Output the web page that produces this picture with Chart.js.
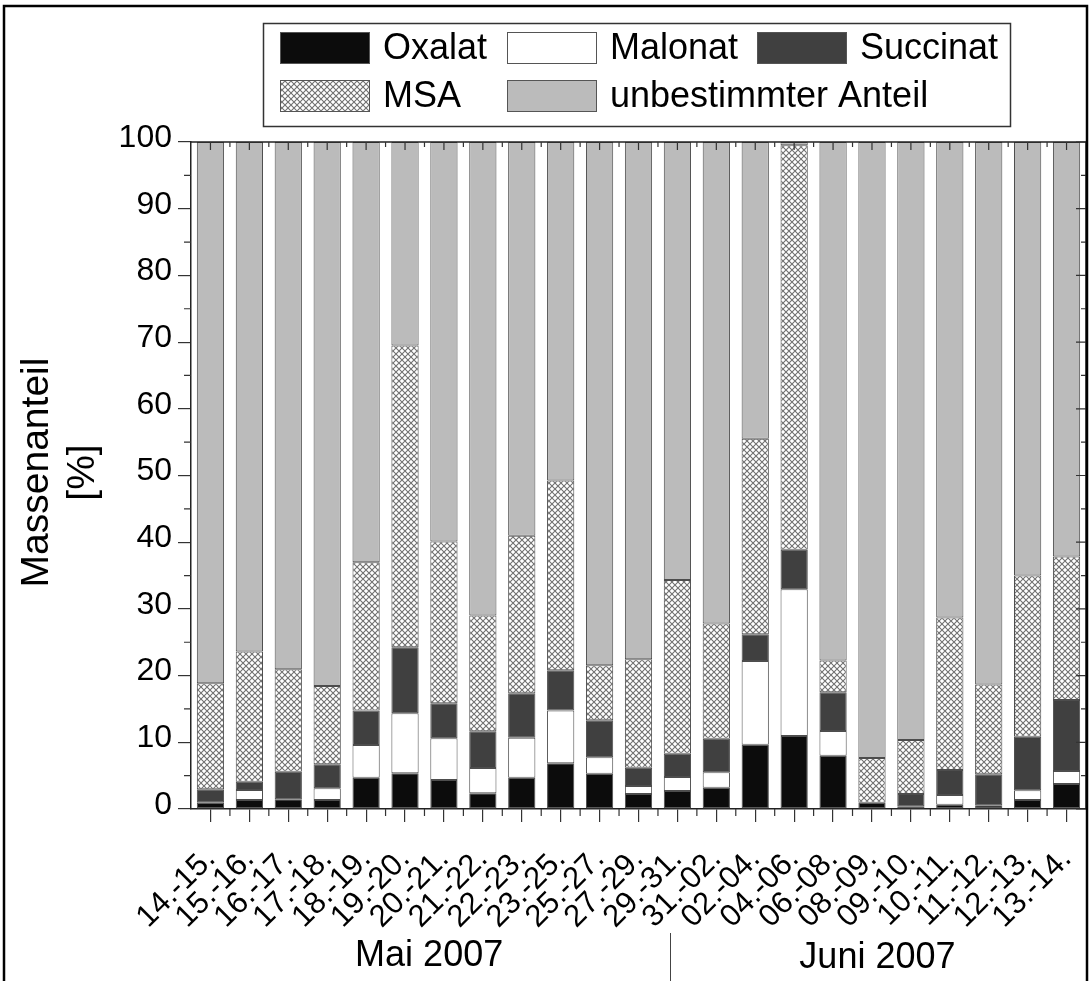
<!DOCTYPE html>
<html>
<head>
<meta charset="utf-8">
<script src="https://cdn.jsdelivr.net/npm/chart.js@4.4.1/dist/chart.umd.min.js"></script>
<style>
html,body{margin:0;padding:0;background:#fff;}
#wrap{width:1092px;height:981px;position:relative;}
</style>
</head>
<body>
<div id="wrap"><canvas id="c" width="1092" height="981"></canvas></div>
<script>
// ---- data ----
const categories = ['14.-15.','15.-16.','16.-17.','17.-18.','18.-19.','19.-20.','20.-21.','21.-22.','22.-23.','23.-25.','25.-27.','27.-29.','29.-31.','31.-02.','02.-04.','04.-06.','06.-08.','08.-09.','09.-10.','10.-11.','11.-12.','12.-13.','13.-14.'];
const oxalat     = [0.95, 1.35, 1.45, 1.35, 4.7, 5.35, 4.35, 2.35, 4.7, 6.85, 5.3, 2.25, 2.7, 3.2, 9.65, 10.95, 8.0, 0.95, 0.4, 0.65, 0.55, 1.35, 3.75];
const malonat    = [0, 1.5, 0, 1.75, 4.9, 9.0, 6.25, 3.8, 6.0, 7.9, 2.45, 1.2, 2.1, 2.3, 12.55, 22.0, 3.7, 0, 0, 1.45, 0, 1.45, 1.95];
const succinat   = [2.0, 1.25, 4.15, 3.6, 5.15, 9.9, 5.25, 5.5, 6.65, 6.05, 5.55, 2.75, 3.5, 5.05, 4.0, 5.9, 5.8, 0, 1.85, 3.75, 4.65, 8.05, 10.65];
const msa        = [15.9, 19.5, 15.35, 11.75, 22.25, 45.25, 24.25, 17.35, 23.6, 28.45, 8.25, 16.25, 26.05, 17.25, 29.3, 60.65, 4.75, 6.7, 8.1, 22.85, 13.45, 24.15, 21.5];
const unbestimmt = [81.15, 76.4, 79.05, 81.55, 63.0, 30.5, 59.9, 71.0, 59.05, 50.75, 78.45, 77.55, 65.65, 72.2, 44.5, 0.5, 77.75, 92.35, 89.65, 71.3, 81.35, 65.0, 62.15];
const seriesNames = ['Oxalat','Malonat','Succinat','MSA','unbestimmter Anteil'];
const yMajorTicks = [0,10,20,30,40,50,60,70,80,90,100];
const yMinorTicks = [5,15,25,35,45,55,65,75,85,95];
const yTitleLines = ['Massenanteil','[%]'];
const groupLabels = ['Mai 2007','Juni 2007'];

const FONT = '"Liberation Sans", Arial, Helvetica, sans-serif';

function crossHatch(){
  const s = 6;
  const cv = document.createElement('canvas');
  cv.width = s; cv.height = s;
  const g = cv.getContext('2d');
  g.fillStyle = '#ffffff'; g.fillRect(0,0,s,s);
  g.strokeStyle = '#707070'; g.lineWidth = 1.1;
  g.beginPath();
  g.moveTo(0,0); g.lineTo(s,s);
  g.moveTo(s,0); g.lineTo(0,s);
  g.stroke();
  return g.createPattern(cv,'repeat');
}
const hatch = crossHatch();
const fills = ['#0c0c0c','#ffffff','#404040',hatch,'#bbbbbb'];
const seriesData = [oxalat, malonat, succinat, msa, unbestimmt];

const deco = {
  id:'deco',
  beforeDraw(chart){
    const c = chart.ctx;
    c.save(); c.fillStyle='#fff'; c.fillRect(0,0,chart.width,chart.height); c.restore();
  },
  afterDraw(chart){
    const c = chart.ctx, x = chart.scales.x, y = chart.scales.y, a = chart.chartArea;
    c.save();
    // frame top & right
    c.strokeStyle = '#222'; c.lineWidth = 1.5;
    c.beginPath();
    c.moveTo(a.left, a.top); c.lineTo(a.right, a.top); c.lineTo(a.right, a.bottom);
    c.stroke();
    // extra tick marks
    c.lineWidth = 1.2; c.strokeStyle = '#333';
    c.beginPath();
    yMajorTicks.forEach(v => { const p = y.getPixelForValue(v); c.moveTo(a.right, p); c.lineTo(a.right - 10, p); });
    yMinorTicks.forEach(v => { const p = y.getPixelForValue(v);
      c.moveTo(a.left, p); c.lineTo(a.left - 7, p);
      c.moveTo(a.right, p); c.lineTo(a.right - 5, p); });
    categories.forEach((_, i) => {
      const p = x.getPixelForValue(i);
      c.moveTo(p, a.top); c.lineTo(p, a.top + 8);
      if (i > 0) {
        const q = x.getPixelForValue(i - 0.5);
        c.moveTo(q, a.top); c.lineTo(q, a.top + 5);
        c.moveTo(q, a.bottom); c.lineTo(q, a.bottom + 7);
      }
    });
    c.stroke();

    // y axis title (two lines, rotated)
    c.fillStyle = '#000';
    c.font = '39px ' + FONT;
    c.textAlign = 'center'; c.textBaseline = 'middle';
    const cy = (a.top + a.bottom) / 2 - 3;
    [37, 83].forEach((tx, i) => {
      c.save(); c.translate(tx, cy); c.rotate(-Math.PI/2);
      c.fillText(yTitleLines[i], 0, 0); c.restore();
    });

    // month group labels + separator
    c.font = '36px ' + FONT;
    c.fillText(groupLabels[0], x.getPixelForValue(5.62), 956);
    c.fillText(groupLabels[1], x.getPixelForValue(17.14), 958);
    const sx = Math.round(x.getPixelForValue(11.81)) + 0.5;
    c.strokeStyle = '#444'; c.lineWidth = 1;
    c.beginPath(); c.moveTo(sx, 933); c.lineTo(sx, 981); c.stroke();

    // legend box
    c.strokeStyle = '#333'; c.lineWidth = 1.5;
    c.strokeRect(263.5, 23.5, 747, 103);
    const cols = [280, 507, 757];
    const rows = [32, 80];
    c.font = '36px ' + FONT; c.textAlign = 'left'; c.textBaseline = 'middle';
    chart.data.datasets.forEach((ds, i) => {
      const col = i % 3, row = Math.floor(i / 3);
      const bx = cols[col], by = rows[row];
      c.fillStyle = ds.backgroundColor;
      c.fillRect(bx, by, 90, 32);
      c.strokeStyle = '#555'; c.lineWidth = 1;
      c.strokeRect(bx + 0.5, by + 0.5, 89, 31);
      c.fillStyle = '#000';
      c.fillText(ds.label, bx + 103, by + 17);
    });

    // outer picture border
    c.strokeStyle = '#000'; c.lineWidth = 2.5;
    c.strokeRect(4, 6, 1083, 1000);
    c.restore();
  }
};

new Chart(document.getElementById('c'), {
  type: 'bar',
  data: {
    labels: categories,
    datasets: seriesNames.map((name, i) => ({
      label: name,
      data: seriesData[i],
      backgroundColor: fills[i],
      borderColor: '#4d4d4d',
      borderWidth: 1,
      borderSkipped: false,
      categoryPercentage: 1.0,
      barPercentage: 0.7
    }))
  },
  options: {
    responsive: false,
    animation: false,
    devicePixelRatio: 1,
    layout: { padding: { top: 142, right: 6, left: 0, bottom: 0 } },
    plugins: { legend: { display: false }, tooltip: { enabled: false } },
    scales: {
      x: {
        stacked: true,
        grid: { offset: false, drawOnChartArea: false, drawTicks: true, tickLength: 13, color: '#333', lineWidth: 1.2 },
        border: { display: true, color: '#222', width: 1.5 },
        ticks: { autoSkip: false, maxRotation: 45, minRotation: 45, color: '#000', padding: 19, font: { size: 31, family: FONT } },
        afterFit(s) { s.height = 172; s.paddingLeft = 0; s.paddingRight = 0; }
      },
      y: {
        stacked: true, min: 0, max: 100,
        afterBuildTicks(s) { s.ticks = yMajorTicks.map(v => ({ value: v })); },
        grid: { drawOnChartArea: false, drawTicks: true, tickLength: 13, color: '#333', lineWidth: 1.2 },
        border: { display: true, color: '#222', width: 1.5 },
        ticks: { color: '#000', padding: 6, labelOffset: -4, font: { size: 32, family: FONT } },
        afterFit(s) { s.width = 191; s.paddingTop = 0; s.paddingBottom = 0; }
      }
    }
  },
  plugins: [deco]
});
</script>
</body>
</html>
